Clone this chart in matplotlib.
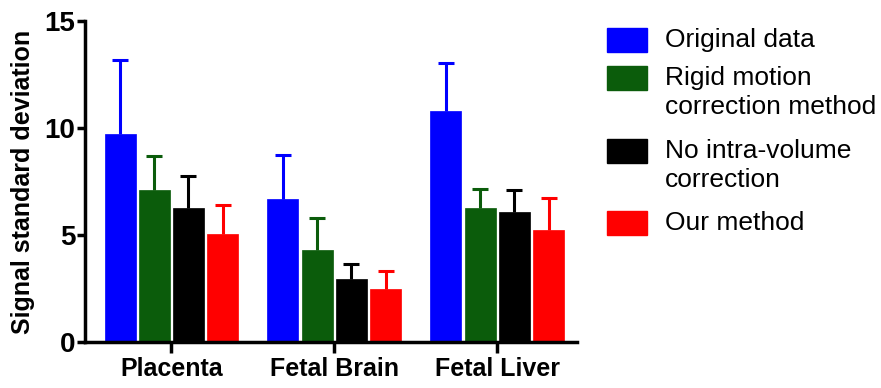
import numpy as np
import matplotlib
matplotlib.use("Agg")
import matplotlib.pyplot as plt
from matplotlib.patches import Rectangle

plt.rcParams['font.family'] = ['Liberation Sans', 'DejaVu Sans']

# data
groups = ['Placenta', 'Fetal Brain', 'Fetal Liver']
series = ['Original data', 'Rigid motion\ncorrection method',
          'No intra-volume\ncorrection', 'Our method']
colors = ['#0000ff', '#0b5c0b', '#000000', '#ff0000']

means = [
    [9.7, 6.67, 10.79],   # original
    [7.1, 4.30, 6.28],    # rigid
    [6.25, 2.96, 6.09],   # no intra-volume
    [5.05, 2.49, 5.25],   # ours
]
upper = [
    [13.18, 8.72, 13.04],
    [8.69, 5.79, 7.15],
    [7.77, 3.63, 7.09],
    [6.39, 3.33, 6.73],
]

fig = plt.figure(figsize=(8.81, 3.88), dpi=100)
ax = fig.add_axes([0.0965, 0.1186, 0.655 - 0.0965, 0.946 - 0.1186])

x = np.arange(len(groups))
w = 0.19
step = 0.21
for i, (m, u, c) in enumerate(zip(means, upper, colors)):
    pos = x + (i - 1.5) * step
    m = np.array(m)
    err = np.array(u) - m
    eb = ax.errorbar(pos, m, yerr=[np.zeros_like(err), err], fmt='none',
                     ecolor=c, elinewidth=2.2, capsize=5.5, capthick=2.2, zorder=1)
    # only the upper cap is wanted
    eb[1][0].set_visible(False)
    ax.bar(pos, m, width=w, color=c, edgecolor=c, linewidth=0.5, zorder=2)

ax.set_xlim(-0.53, 2.49)
ax.set_ylim(0, 15)
ax.set_yticks([0, 5, 10, 15])
ax.set_xticks(x)
ax.set_xticklabels(groups, fontsize=18, fontweight='bold')
for lab in ax.get_yticklabels():
    lab.set_fontsize(20)
    lab.set_fontweight('bold')
ax.set_ylabel('Signal standard deviation', fontsize=18, fontweight='bold', labelpad=7)

for s in ['top', 'right']:
    ax.spines[s].set_visible(False)
for s in ['left', 'bottom']:
    ax.spines[s].set_linewidth(2.5)
ax.tick_params(axis='both', width=2.5, length=6, direction='out')
ax.tick_params(axis='x', length=8, pad=3)
ax.tick_params(axis='y', pad=1)

# legend drawn by hand so the swatch sits on the first text line
legend_y = [40, 78, 151, 223]
for lab, c, yp in zip(series, colors, legend_y):
    yf = 1 - yp / 388
    fig.patches.append(Rectangle((607 / 881, yf - 12 / 388), 40 / 881, 24 / 388,
                                 transform=fig.transFigure, color=c))
    fig.text(665 / 881, yf + 12 / 388, lab, fontsize=19, va='top', ha='left',
             linespacing=1.25)

fig.savefig('out.png', dpi=100)
